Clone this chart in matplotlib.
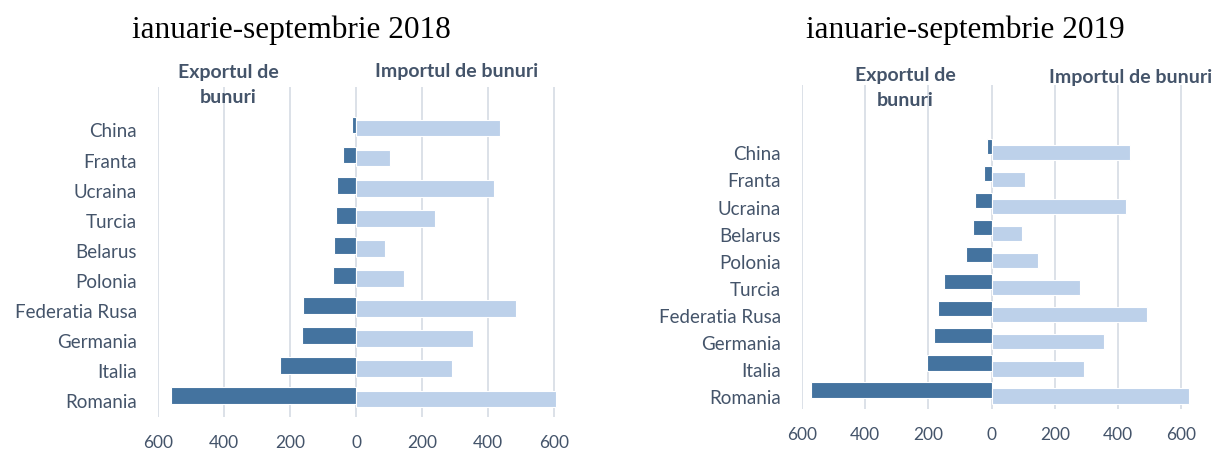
import matplotlib.pyplot as plt
import matplotlib.transforms as mtrans
import numpy as np

# data (mil. USD approx.)
countries_2018 = ['Romania', 'Italia', 'Germania', 'Federatia Rusa', 'Polonia',
                  'Belarus', 'Turcia', 'Ucraina', 'Franta', 'China']
export_2018 = [-561, -230, -164, -160, -70, -68, -60, -58, -39, -12]
import_2018 = [606, 290, 354, 485, 146, 88, 240, 418, 103, 436]

countries_2019 = ['Romania', 'Italia', 'Germania', 'Federatia Rusa', 'Turcia',
                  'Polonia', 'Belarus', 'Ucraina', 'Franta', 'China']
export_2019 = [-570, -206, -183, -171, -150, -80, -60, -54, -25, -14]
import_2019 = [623, 292, 356, 490, 280, 147, 96, 424, 106, 436]

ticks = [-600, -400, -200, 0, 200, 400, 600]
tick_labels = ['600', '400', '200', '0', '200', '400', '600']

dark = '#44739F'
light = '#BDD1EA'
txt = '#44546A'
grid_c = '#D9DEE6'
font = 'Lato'

fig = plt.figure(figsize=(12.17, 4.49), dpi=100)


def panel(rect, countries, exp, imp, xlim, ylim, off, h):
    ax = fig.add_axes(rect)
    y = np.arange(len(countries))
    ax.barh(y + off, exp, height=h, color=dark, edgecolor='white', linewidth=0.8, zorder=3)
    ax.barh(y - off, imp, height=h, color=light, edgecolor='white', linewidth=0.8, zorder=3)
    ax.set_yticks(y)
    ax.set_yticklabels(countries, fontsize=13.5, color=txt, family=font)
    ax.set_xticks(ticks)
    ax.set_xticklabels(tick_labels, fontsize=12.5, color=txt, family=font)
    ax.set_xlim(*xlim)
    ax.set_ylim(*ylim)
    ax.grid(axis='x', color=grid_c, linewidth=1.3, zorder=0)
    for s in ax.spines.values():
        s.set_visible(False)
    ax.tick_params(axis='y', length=0, pad=15)
    ax.tick_params(axis='x', length=0, pad=13)
    # labels sit a bit lower than bar centres in the reference
    shift = mtrans.ScaledTranslation(0, -4 / 100, fig.dpi_scale_trans)
    for lab in ax.get_yticklabels():
        lab.set_transform(lab.get_transform() + shift)
    return ax


ax1 = panel([158 / 1217, 1 - 417 / 449, 402.6 / 1217, 330 / 449],
            countries_2018, export_2018, import_2018, (-600, 620), (-0.65, 10.31), 0.05, 0.56)

ax2 = panel([802 / 1217, 1 - 409 / 449, 392 / 1217, 324 / 449],
            countries_2019, export_2019, import_2019, (-600, 640), (-0.59, 11.38), 0.11, 0.56)

# titles
fig.text(291 / 1217, 1 - 30 / 449, 'ianuarie-septembrie 2018', ha='center', va='center',
         fontsize=22.5, family='Liberation Serif', color='black')
fig.text(965 / 1217, 1 - 30 / 449, 'ianuarie-septembrie 2019', ha='center', va='center',
         fontsize=22.5, family='Liberation Serif', color='black')

# series headers
hdr = dict(ha='center', va='center', fontsize=14, fontweight='bold', color=txt, family=font,
           linespacing=1.6)
fig.text(228 / 1217, 1 - 85 / 449, 'Exportul de\nbunuri', **hdr)
fig.text(457 / 1217, 1 - 72 / 449, 'Importul de bunuri', **hdr)
fig.text(905 / 1217, 1 - 88 / 449, 'Exportul de\nbunuri', **hdr)
fig.text(1131 / 1217, 1 - 78 / 449, 'Importul de bunuri', **hdr)

fig.savefig('out.png', dpi=100)
